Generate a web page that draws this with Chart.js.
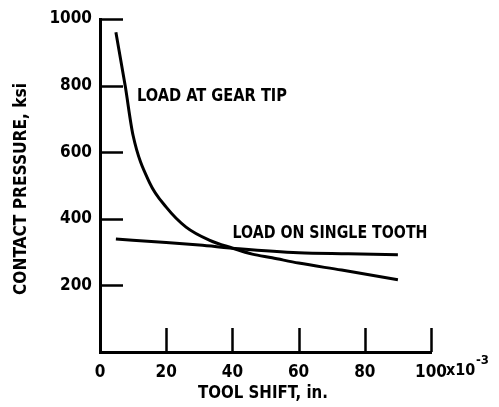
<!DOCTYPE html>
<html>
<head>
<meta charset="utf-8">
<script src="https://cdn.jsdelivr.net/npm/chart.js@4.4.0/dist/chart.umd.min.js"></script>
<style>
  html, body { margin: 0; padding: 0; background: #fff; }
  #wrap { width: 499px; height: 407px; }
</style>
</head>
<body>
<div id="wrap"><canvas id="chart" width="499" height="407"></canvas></div>
<script>
'use strict';

// tool shift (x10^-3 in.) vs contact pressure (ksi)
const shiftGearTip = [4.8, 7.6, 10, 15, 20, 26, 33, 40, 46, 52, 60, 73, 90];
const pressureGearTip = [960, 800, 650, 508, 435, 375, 336, 312, 294, 283, 267, 246, 217];

const shiftSingle = [4.8, 20, 30, 42, 60, 75, 90];
const pressureSingle = [339, 329, 321, 310, 298, 295, 292];

const xTicks = [0, 20, 40, 60, 80, 100];
const yTicks = [200, 400, 600, 800, 1000];

const FONT = "'DejaVu Sans Condensed', 'Liberation Sans Narrow', sans-serif";
const INK = '#000';

// draws text squeezed/stretched to a given width, centred on (cx, cy)
function drawFit(ctx, text, cx, cy, width, size, angle) {
  ctx.save();
  ctx.font = `bold ${size}px ${FONT}`;
  ctx.fillStyle = INK;
  ctx.textAlign = 'center';
  ctx.textBaseline = 'middle';
  const w = ctx.measureText(text).width;
  ctx.translate(cx, cy);
  if (angle) ctx.rotate(angle);
  ctx.scale(width / w, 1);
  ctx.fillText(text, 0, 0);
  ctx.restore();
}

const decorations = {
  id: 'decorations',
  afterDraw(chart) {
    const { ctx, scales: { x, y } } = chart;
    const left = x.left, bottom = y.bottom;

    // inward tick marks
    ctx.save();
    ctx.strokeStyle = INK;
    ctx.lineWidth = 2.5;
    ctx.beginPath();
    yTicks.forEach(v => {
      const py = Math.round(y.getPixelForValue(v)) + 0.5;
      ctx.moveTo(left, py);
      ctx.lineTo(left + 23, py);
    });
    xTicks.slice(1).forEach(v => {
      const px = Math.round(x.getPixelForValue(v)) + 0.5;
      ctx.moveTo(px, bottom);
      ctx.lineTo(px, bottom - 24);
    });
    ctx.stroke();
    ctx.restore();

    // exponent after the last x tick label
    const p100 = x.getPixelForValue(100);
    ctx.save();
    ctx.fillStyle = INK;
    ctx.textBaseline = 'middle';
    ctx.textAlign = 'left';
    ctx.font = `bold 16px ${FONT}`;
    ctx.fillText('x10', p100 + 15, 371);
    ctx.font = `bold 13px ${FONT}`;
    ctx.fillText('-3', p100 + 45, 361);
    ctx.restore();

    drawFit(ctx, 'LOAD AT GEAR TIP', 212, 96, 150, 18);
    drawFit(ctx, 'LOAD ON SINGLE TOOTH', 330, 233, 195, 18);
    drawFit(ctx, 'TOOL SHIFT, in.', 263, 393, 130, 18);
    drawFit(ctx, 'CONTACT PRESSURE, ksi', 21, 189, 212, 18, -Math.PI / 2);
  }
};

const lineStyle = {
  borderColor: INK,
  borderWidth: 3,
  pointRadius: 0,
  fill: false,
  cubicInterpolationMode: 'monotone',
  borderCapStyle: 'butt'
};

const tickFont = { family: FONT, size: 17, weight: 'bold' };

new Chart(document.getElementById('chart'), {
  type: 'line',
  data: {
    datasets: [
      Object.assign({
        label: 'Load at gear tip',
        data: shiftGearTip.map((s, i) => ({ x: s, y: pressureGearTip[i] }))
      }, lineStyle),
      Object.assign({
        label: 'Load on single tooth',
        data: shiftSingle.map((s, i) => ({ x: s, y: pressureSingle[i] }))
      }, lineStyle)
    ]
  },
  options: {
    responsive: false,
    animation: false,
    layout: { padding: { top: 19, right: 68, left: 0, bottom: 0 } },
    plugins: { legend: { display: false }, tooltip: { enabled: false } },
    scales: {
      x: {
        type: 'linear',
        min: 0, max: 100,
        afterBuildTicks: s => { s.ticks = xTicks.map(v => ({ value: v })); },
        afterFit: s => { s.height = 55; },
        grid: { display: true, drawOnChartArea: false, drawTicks: false },
        border: { display: true, color: INK, width: 3 },
        ticks: {
          color: INK, padding: 10, maxRotation: 0, autoSkip: false,
          font: tickFont,
          callback: v => String(v)
        }
      },
      y: {
        type: 'linear',
        min: 0, max: 1000,
        afterBuildTicks: s => { s.ticks = yTicks.map(v => ({ value: v })); },
        afterFit: s => { s.width = 100; },
        grid: { display: true, drawOnChartArea: false, drawTicks: false },
        border: { display: true, color: INK, width: 3 },
        ticks: {
          color: INK, padding: 8,
          font: tickFont,
          callback: v => String(v)
        }
      }
    }
  },
  plugins: [decorations]
});
</script>
</body>
</html>
